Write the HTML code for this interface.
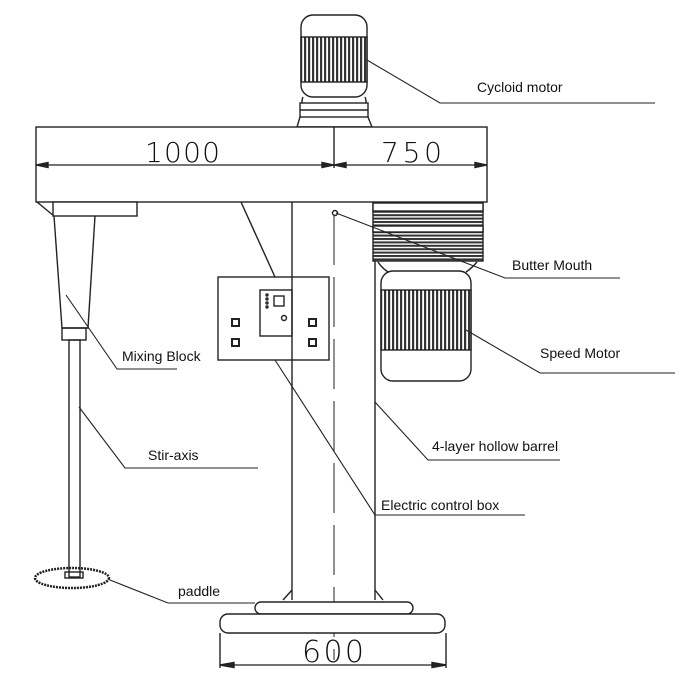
<!DOCTYPE html>
<html><head><style>
html,body{margin:0;padding:0;background:#fff}
svg{display:block}
text{font-family:"Liberation Sans","DejaVu Sans",sans-serif;fill:#111}
</style></head><body>
<svg width="700" height="700" viewBox="0 0 700 700" xmlns="http://www.w3.org/2000/svg" fill="none" stroke="#222" stroke-width="1.4">
<defs>
<pattern id="vs" width="4" height="10" patternUnits="userSpaceOnUse"><rect width="4" height="10" fill="#fff" stroke="none"/><rect width="2.2" height="10" fill="#333" stroke="none"/></pattern>
<pattern id="hs" width="10" height="3.4" patternUnits="userSpaceOnUse"><rect width="10" height="3.4" fill="#fff" stroke="none"/><rect width="10" height="2" fill="#333" stroke="none"/></pattern>
</defs>
<!-- top motor -->
<rect x="301" y="15" width="66" height="82" rx="12"/>
<rect x="301" y="37" width="66" height="45" fill="url(#vs)"/>
<path d="M303 97 Q300 104 306 107 L362 107 Q368 104 365 97"/>
<rect x="300" y="103" width="68" height="14" fill="#fff"/>
<line x1="300" y1="110" x2="368" y2="110"/>
<path d="M300 117 L297 127 L372 127 L368 117"/>
<!-- beam -->
<rect x="36" y="127" width="451" height="75" fill="#fff"/>
<line x1="334" y1="127" x2="334" y2="168"/>
<line x1="36" y1="165" x2="487" y2="165" stroke-width="1.2"/>
<path d="M36 165 l12 -2.5 v5z M334 165 l-12 -2.5 v5z M334 165 l12 -2.5 v5z M487 165 l-12 -2.5 v5z" fill="#222"/>
<text x="145" y="162" font-size="28" fill="#333" stroke="none" style="font-family:'DejaVu Sans',sans-serif;font-weight:200" textLength="75">1000</text>
<text x="381" y="162" font-size="28" fill="#333" stroke="none" style="font-family:'DejaVu Sans',sans-serif;font-weight:200" textLength="61">750</text>
<!-- left mixer -->
<line x1="37" y1="202" x2="54" y2="216"/>
<rect x="53" y="202" width="84" height="14" fill="#fff"/>
<path d="M54 216 L62 328 L88 328 L95 216"/>
<rect x="62" y="328" width="24" height="12"/>
<rect x="69" y="340" width="11" height="237"/>
<ellipse cx="72" cy="578" rx="37" ry="10" stroke-width="2.5" stroke-dasharray="2 1"/>
<rect x="65" y="572" width="18" height="6"/>
<!-- column -->
<line x1="292" y1="202" x2="292" y2="600"/>
<line x1="375" y1="202" x2="375" y2="600"/>
<line x1="334" y1="215" x2="334" y2="660" stroke-width="1" stroke-dasharray="50 12"/>
<circle cx="335" cy="213" r="2.5"/>
<!-- gearbox + speed motor -->
<rect x="373" y="203" width="110" height="58" fill="url(#hs)"/>
<rect x="373" y="203" width="110" height="8" fill="#fff"/>
<rect x="373" y="226" width="110" height="6" fill="#fff"/>
<path d="M378 262 Q382 268 388 272 M477 262 Q472 268 466 272"/>
<rect x="381" y="271" width="90" height="110" rx="12" fill="#fff"/>
<rect x="381" y="290" width="90" height="60" fill="url(#vs)"/>
<!-- control box -->
<line x1="241" y1="202" x2="275" y2="277"/>
<rect x="218" y="277" width="111" height="83" fill="#fff"/>
<line x1="292" y1="277" x2="292" y2="360"/>
<rect x="260" y="290" width="32" height="46"/>
<rect x="274" y="296" width="10" height="10"/>
<circle cx="284" cy="318" r="2.5"/>
<circle cx="267" cy="295" r="1"/><circle cx="267" cy="299" r="1"/><circle cx="267" cy="303" r="1"/><circle cx="267" cy="307" r="1"/>
<rect x="232" y="319" width="7" height="7" stroke-width="2"/>
<rect x="232" y="339" width="7" height="7" stroke-width="2"/>
<rect x="309" y="319" width="7" height="7" stroke-width="2"/>
<rect x="309" y="339" width="7" height="7" stroke-width="2"/>
<!-- base -->
<path d="M292 590 L283 600 M375 590 L383 600"/>
<rect x="255" y="602" width="158" height="12" rx="6" fill="#fff"/>
<rect x="220" y="614" width="225" height="19" rx="8" fill="#fff"/>
<line x1="220" y1="633" x2="220" y2="668"/>
<line x1="446" y1="633" x2="446" y2="668"/>
<line x1="220" y1="665" x2="446" y2="665" stroke-width="1.2"/>
<path d="M220 665 l14 -2.5 v5z M446 665 l-14 -2.5 v5z" fill="#222"/>
<text x="302" y="662" font-size="30" fill="#333" stroke="none" style="font-family:'DejaVu Sans',sans-serif;font-weight:200" textLength="62">600</text>
<!-- leaders -->
<g stroke-width="1.1">
<polyline points="367,60 440,103 655,103"/>
<polyline points="336,213 505,278 620,278"/>
<polyline points="466,330 540,373 675,373"/>
<polyline points="375,402 428,460 560,460"/>
<polyline points="275,360 375,515 525,515"/>
<polyline points="66,295 117,369 177,369"/>
<polyline points="79,407 125,468 258,468"/>
<polyline points="110,580 168,603 255,603"/>
</g>
<g stroke="none" font-size="14">
<text x="477" y="92">Cycloid motor</text>
<text x="512" y="270">Butter Mouth</text>
<text x="540" y="358">Speed Motor</text>
<text x="432" y="451">4-layer hollow barrel</text>
<text x="381" y="510">Electric control box</text>
<text x="122" y="361">Mixing Block</text>
<text x="148" y="460">Stir-axis</text>
<text x="178" y="596">paddle</text>
</g>
</svg>
</body></html>
